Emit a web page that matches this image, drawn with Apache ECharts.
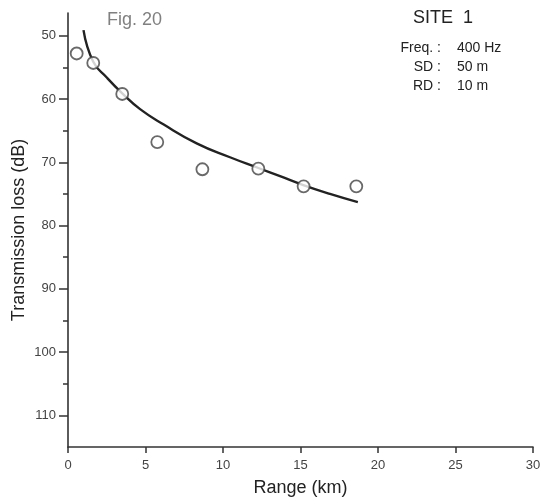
<!DOCTYPE html>
<html><head><meta charset="utf-8">
<script src="https://cdn.jsdelivr.net/npm/echarts@6/dist/echarts.min.js"></script>
<style>html,body{margin:0;padding:0;background:#fff}#c{width:542px;height:502px}</style>
</head><body><div id="c"></div>
<script>
const xTicks = [0, 5, 10, 15, 20, 25, 30];
const yTicks = [50, 60, 70, 80, 90, 100, 110];
const yMinorTicks = [55, 65, 75, 85, 95, 105];
const measuredRange = [0.56, 1.63, 3.5, 5.76, 8.67, 12.28, 15.2, 18.6];
const measuredLoss = [52.8, 54.3, 59.2, 66.8, 71.1, 71.0, 73.8, 73.8];
const curveRange = [1.0, 1.63, 2.5, 3.5, 4.65, 6.15, 8.3, 10.45, 12.28, 13.68, 15.18, 16.9, 18.7];
const curveLoss = [49.1, 54.1, 56.6, 59.1, 61.6, 64.0, 67.0, 69.2, 70.9, 72.2, 73.6, 75.0, 76.3];
const infoLabels = ['Freq. :', 'SD :', 'RD :'];
const infoValues = ['400 Hz', '50 m', '10 m'];

const font = 'Liberation Sans, Arial, sans-serif';
const chart = echarts.init(document.getElementById('c'), null, {renderer: 'canvas'});
const rowY = [48, 67, 86];
const graphics = [
  {type: 'text', x: 107, y: 20, style: {text: 'Fig. 20', fill: '#808080', font: '18px ' + font, verticalAlign: 'middle'}},
  {type: 'text', x: 413, y: 18, style: {text: 'SITE  1', fill: '#222', font: '18px ' + font, verticalAlign: 'middle'}}
];
infoLabels.forEach((t, i) => {
  graphics.push({type: 'text', x: 441, y: rowY[i], style: {text: t, fill: '#222', font: '14px ' + font, align: 'right', verticalAlign: 'middle'}});
  graphics.push({type: 'text', x: 457, y: rowY[i], style: {text: infoValues[i], fill: '#222', font: '14px ' + font, align: 'left', verticalAlign: 'middle'}});
});
chart.setOption({
  animation: false,
  backgroundColor: '#fff',
  grid: {left: 68, right: 9, top: 13, bottom: 55, containLabel: false, outerBoundsMode: 'none'},
  xAxis: {
    type: 'value', min: 0, max: 30, interval: 5,
    splitLine: {show: false},
    axisLine: {onZero: false, lineStyle: {color: '#333', width: 1.6}},
    axisTick: {customValues: xTicks, length: 6, lineStyle: {color: '#333', width: 1.5}},
    axisLabel: {customValues: xTicks, color: '#444', fontSize: 13, fontFamily: font, margin: 12},
    name: 'Range (km)', nameLocation: 'middle', nameGap: 32,
    nameTextStyle: {color: '#222', fontSize: 18, fontFamily: font}
  },
  yAxis: [{
    type: 'value', min: 46.4, max: 115, inverse: true,
    splitLine: {show: false},
    axisLine: {onZero: false, lineStyle: {color: '#333', width: 1.6}},
    axisTick: {customValues: yTicks, length: 9, lineStyle: {color: '#333', width: 1.5}},
    axisLabel: {customValues: yTicks, color: '#444', fontSize: 13, fontFamily: font, margin: 12},
    name: 'Transmission loss (dB)', nameLocation: 'middle', nameGap: 40, nameRotate: 90,
    nameMoveOverlap: false,
    nameTextStyle: {color: '#222', fontSize: 18, fontFamily: font}
  }, {
    type: 'value', min: 46.4, max: 115, inverse: true, position: 'left',
    splitLine: {show: false},
    axisLine: {show: false, onZero: false},
    axisTick: {customValues: yMinorTicks, length: 5, lineStyle: {color: '#333', width: 1.5}},
    axisLabel: {show: false}
  }],
  graphic: graphics,
  series: [
    {
      type: 'line', smooth: 0.5, symbol: 'none',
      data: curveRange.map((x, i) => [x, curveLoss[i]]),
      lineStyle: {color: '#222', width: 2.4}, z: 2
    },
    {
      type: 'scatter', symbol: 'circle', symbolSize: 12,
      data: measuredRange.map((x, i) => [x, measuredLoss[i]]),
      itemStyle: {color: '#fff', borderColor: '#444', borderWidth: 1.8}, z: 3
    }
  ]
});
</script></body></html>
